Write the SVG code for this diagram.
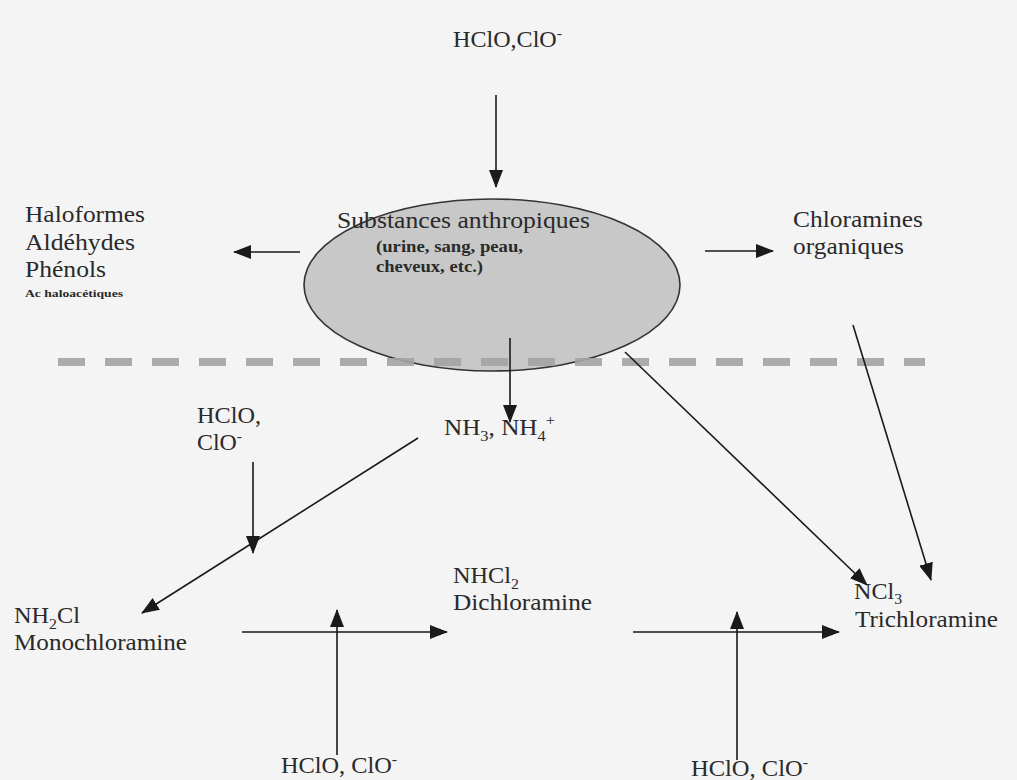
<svg xmlns="http://www.w3.org/2000/svg" width="1017" height="780" viewBox="0 0 1017 780">
<defs>
<marker id="ah" markerUnits="userSpaceOnUse" markerWidth="18" markerHeight="14" refX="17" refY="7" orient="auto">
<path d="M0,0 L18,7 L0,14 Z" fill="#1a1a1a"/>
</marker>
<style>
.t{font-family:"Liberation Serif","Times New Roman",serif;font-size:23px;fill:#2a2a2a}
.s{font-size:15px}
.b{font-family:"Liberation Serif","Times New Roman",serif;font-weight:bold;fill:#2a2a2a}
.c{stroke:#1a1a1a;stroke-width:1.6;fill:none;marker-end:url(#ah)}
</style>
</defs>
<rect width="1017" height="780" fill="#f4f4f4"/>
<g id="ellipse">
<ellipse cx="492" cy="285" rx="188" ry="86" fill="#c8c8c8" stroke="#333" stroke-width="1.6"/>
<text class="t" x="337" y="228" font-size="24" textLength="253" lengthAdjust="spacingAndGlyphs">Substances anthropiques</text>
<text class="b" x="376" y="252" font-size="16" textLength="147" lengthAdjust="spacingAndGlyphs">(urine, sang, peau,</text>
<text class="b" x="376" y="272" font-size="16" textLength="107" lengthAdjust="spacingAndGlyphs">cheveux, etc.)</text>
</g>
<line x1="58" y1="362" x2="925" y2="362" stroke="#a4a4a4" stroke-width="8" stroke-dasharray="27 20" opacity="0.9"/>
<g id="top"><text class="t" x="453" y="47" font-size="22" textLength="109" lengthAdjust="spacingAndGlyphs">HClO,ClO<tspan class="s" dy="-9">-</tspan></text></g>
<g id="left">
<text class="t" x="25" y="222" font-size="24" textLength="120" lengthAdjust="spacingAndGlyphs">Haloformes</text>
<text class="t" x="25" y="250" font-size="24" textLength="110" lengthAdjust="spacingAndGlyphs">Aldéhydes</text>
<text class="t" x="25" y="277" font-size="24" textLength="81" lengthAdjust="spacingAndGlyphs">Phénols</text>
<text class="b" x="25" y="297" font-size="11" textLength="98" lengthAdjust="spacingAndGlyphs">Ac  haloacétiques</text>
</g>
<g id="right"><text class="t" x="793" y="227" font-size="24" textLength="130" lengthAdjust="spacingAndGlyphs">Chloramines</text><text class="t" x="793" y="254" font-size="24" textLength="111" lengthAdjust="spacingAndGlyphs">organiques</text></g>
<g id="nh3"><text class="t" x="444" y="435" textLength="111" lengthAdjust="spacingAndGlyphs">NH<tspan class="s" dy="6">3</tspan><tspan dy="-6">, NH</tspan><tspan class="s" dy="6">4</tspan><tspan class="s" dy="-16">+</tspan></text></g>
<g id="hclo-left"><text class="t" x="197" y="423" textLength="64" lengthAdjust="spacingAndGlyphs">HClO,</text><text class="t" x="197" y="450" textLength="45" lengthAdjust="spacingAndGlyphs">ClO<tspan class="s" dy="-9">-</tspan></text></g>
<g id="mono"><text class="t" x="14" y="623" textLength="66" lengthAdjust="spacingAndGlyphs">NH<tspan class="s" dy="6">2</tspan><tspan dy="-6">Cl</tspan></text><text class="t" x="14" y="650" textLength="173" lengthAdjust="spacingAndGlyphs">Monochloramine</text></g>
<g id="di"><text class="t" x="453" y="583" textLength="66" lengthAdjust="spacingAndGlyphs">NHCl<tspan class="s" dy="6">2</tspan></text><text class="t" x="453" y="610" textLength="139" lengthAdjust="spacingAndGlyphs">Dichloramine</text></g>
<g id="tri"><text class="t" x="854" y="599" textLength="48" lengthAdjust="spacingAndGlyphs">NCl<tspan class="s" font-size="14" dy="5">3</tspan></text><text class="t" x="855" y="627" textLength="143" lengthAdjust="spacingAndGlyphs">Trichloramine</text></g>
<g id="hclo-b1"><text class="t" x="281" y="773" textLength="116" lengthAdjust="spacingAndGlyphs">HClO, ClO<tspan class="s" dy="-9">-</tspan></text></g>
<g id="hclo-b2"><text class="t" x="691" y="776" textLength="117" lengthAdjust="spacingAndGlyphs">HClO, ClO<tspan class="s" dy="-9">-</tspan></text></g>
<g id="connectors">
<line class="c" x1="496" y1="95" x2="496" y2="187"/>
<line class="c" x1="300" y1="252" x2="234" y2="252"/>
<line class="c" x1="705" y1="251" x2="773" y2="251"/>
<line class="c" x1="510" y1="338" x2="510" y2="422"/>
<line class="c" x1="625" y1="352" x2="867" y2="585"/>
<line class="c" x1="853" y1="325" x2="931" y2="580"/>
<line class="c" x1="253" y1="462" x2="253" y2="553"/>
<line class="c" x1="418" y1="438" x2="142" y2="613"/>
<line class="c" x1="242" y1="632" x2="447" y2="632"/>
<line class="c" x1="337" y1="755" x2="337" y2="610"/>
<line class="c" x1="633" y1="632" x2="839" y2="632"/>
<line class="c" x1="737" y1="760" x2="737" y2="612"/>
</g>
</svg>
